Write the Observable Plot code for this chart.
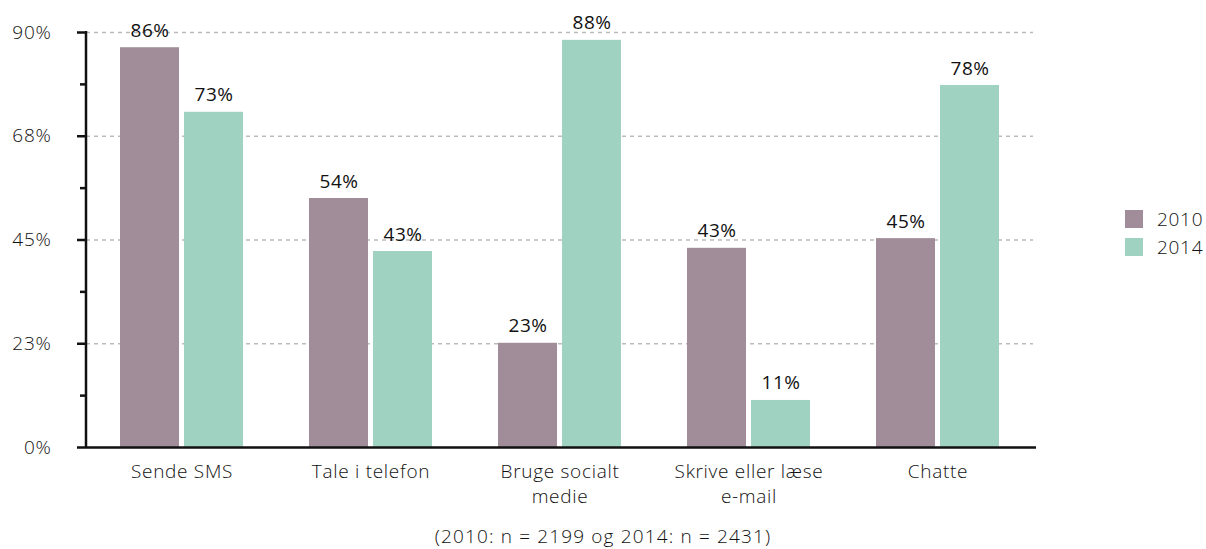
<!DOCTYPE html>
<html><head><meta charset="utf-8">
<script src="https://cdn.jsdelivr.net/npm/d3@7"></script>
<script src="https://cdn.jsdelivr.net/npm/@observablehq/plot@0.6"></script>
<style>
body{margin:0;background:#fff;font-family:"Open Sans",sans-serif;}
#wrap{position:relative;width:1206px;height:549px;overflow:hidden;}
#chart svg text{letter-spacing:0.7px;font-weight:300;}
#chart svg g.vlabel text{font-weight:400;letter-spacing:0.5px;}
#legend{position:absolute;left:1125px;top:205px;font-size:19px;color:#111;font-weight:300;letter-spacing:0.7px;}
#legend div{display:flex;align-items:center;height:28px;}
#legend span.sw{display:inline-block;width:18px;height:18px;margin-right:14px;}
#caption{position:absolute;top:525px;left:0;width:1206px;text-align:center;font-size:19px;line-height:22px;color:#111;letter-spacing:1.15px;font-weight:300;}
</style></head>
<body><div id="wrap"><div id="chart"></div><div id="legend"></div><div id="caption"></div></div>
<script>
const categories = ["Sende SMS","Tale i telefon","Bruge socialt\nmedie","Skrive eller læse\ne-mail","Chatte"];
const years = ["2010","2014"];
const values2010 = [86.7,54.0,22.6,43.2,45.3];
const values2014 = [72.7,42.5,88.3,10.2,78.5];
const labels2010 = ["86%","54%","23%","43%","45%"];
const labels2014 = ["73%","43%","88%","11%","78%"];
const yTicks = [0,22.5,45,67.5,90];
const yTickLabels = ["0%","23%","45%","68%","90%"];
const yMinorTicks = [11.25,33.75,56.25,78.75];
const colors = ["#a18d99","#9fd2c0"];
const caption = "(2010: n = 2199 og 2014: n = 2431)";

const d10 = categories.map((c,i)=>({category:c, year:years[0], value:values2010[i], label:labels2010[i]}));
const d14 = categories.map((c,i)=>({category:c, year:years[1], value:values2014[i], label:labels2014[i]}));

const yAxisLine = (index, scales, values, dims) => {
  const l = d3.create("svg:line")
    .attr("x1", dims.marginLeft).attr("x2", dims.marginLeft)
    .attr("y1", scales.y(90) - 1).attr("y2", scales.y(0) + 1)
    .attr("stroke", "#111").attr("stroke-width", 2.5);
  return l.node();
};

const chart = Plot.plot({
  width: 1206,
  height: 520,
  marginLeft: 86,
  marginRight: 173,
  marginTop: 32,
  marginBottom: 73,
  style: {fontFamily: "'Open Sans', sans-serif", fontSize: "19px", color: "#111", background: "#fff"},
  x: {domain: categories, paddingInner: 0.35, paddingOuter: 0.175, axis: null},
  y: {domain: [0, 90], axis: null, label: null},
  marks: [
    Plot.ruleY(yTicks.slice(1), {stroke: "#bbb", strokeWidth: 1.5, strokeDasharray: "4,4"}),
    Plot.barY(d10, {x: "category", y: "value", fill: colors[0], insetRight: 64}),
    Plot.barY(d14, {x: "category", y: "value", fill: colors[1], insetLeft: 64}),
    Plot.text(d10, {x: "category", y: "value", text: "label", dx: -32, dy: -11, lineAnchor: "bottom", fill: "#111", fontSize: 19, className: "vlabel"}),
    Plot.text(d14, {x: "category", y: "value", text: "label", dx: 32, dy: -11, lineAnchor: "bottom", fill: "#111", fontSize: 19, className: "vlabel"}),
    Plot.axisY({ticks: yMinorTicks, tickSize: 6, tickFormat: () => "", label: null, strokeWidth: 2.5, stroke: "#111"}),
    Plot.axisY({ticks: yTicks, tickSize: 9, tickPadding: 26, label: null, tickFormat: (d) => yTickLabels[yTicks.indexOf(d)], strokeWidth: 2.5, stroke: "#111", fill: "#111", fontSize: 19}),
    Plot.text(categories, {x: d => d, frameAnchor: "bottom", lineAnchor: "top", dy: 12, lineHeight: 1.35, fill: "#111", fontSize: 19}),
    Plot.ruleY([0], {stroke: "#111", strokeWidth: 2.5, insetRight: -3}),
    yAxisLine
  ]
});
document.getElementById("chart").appendChild(chart);

const leg = document.getElementById("legend");
years.forEach((y,i)=>{
  const row = document.createElement("div");
  row.innerHTML = `<span class="sw" style="background:${colors[i]}"></span>${y}`;
  leg.appendChild(row);
});
document.getElementById("caption").textContent = caption;
</script></body></html>
